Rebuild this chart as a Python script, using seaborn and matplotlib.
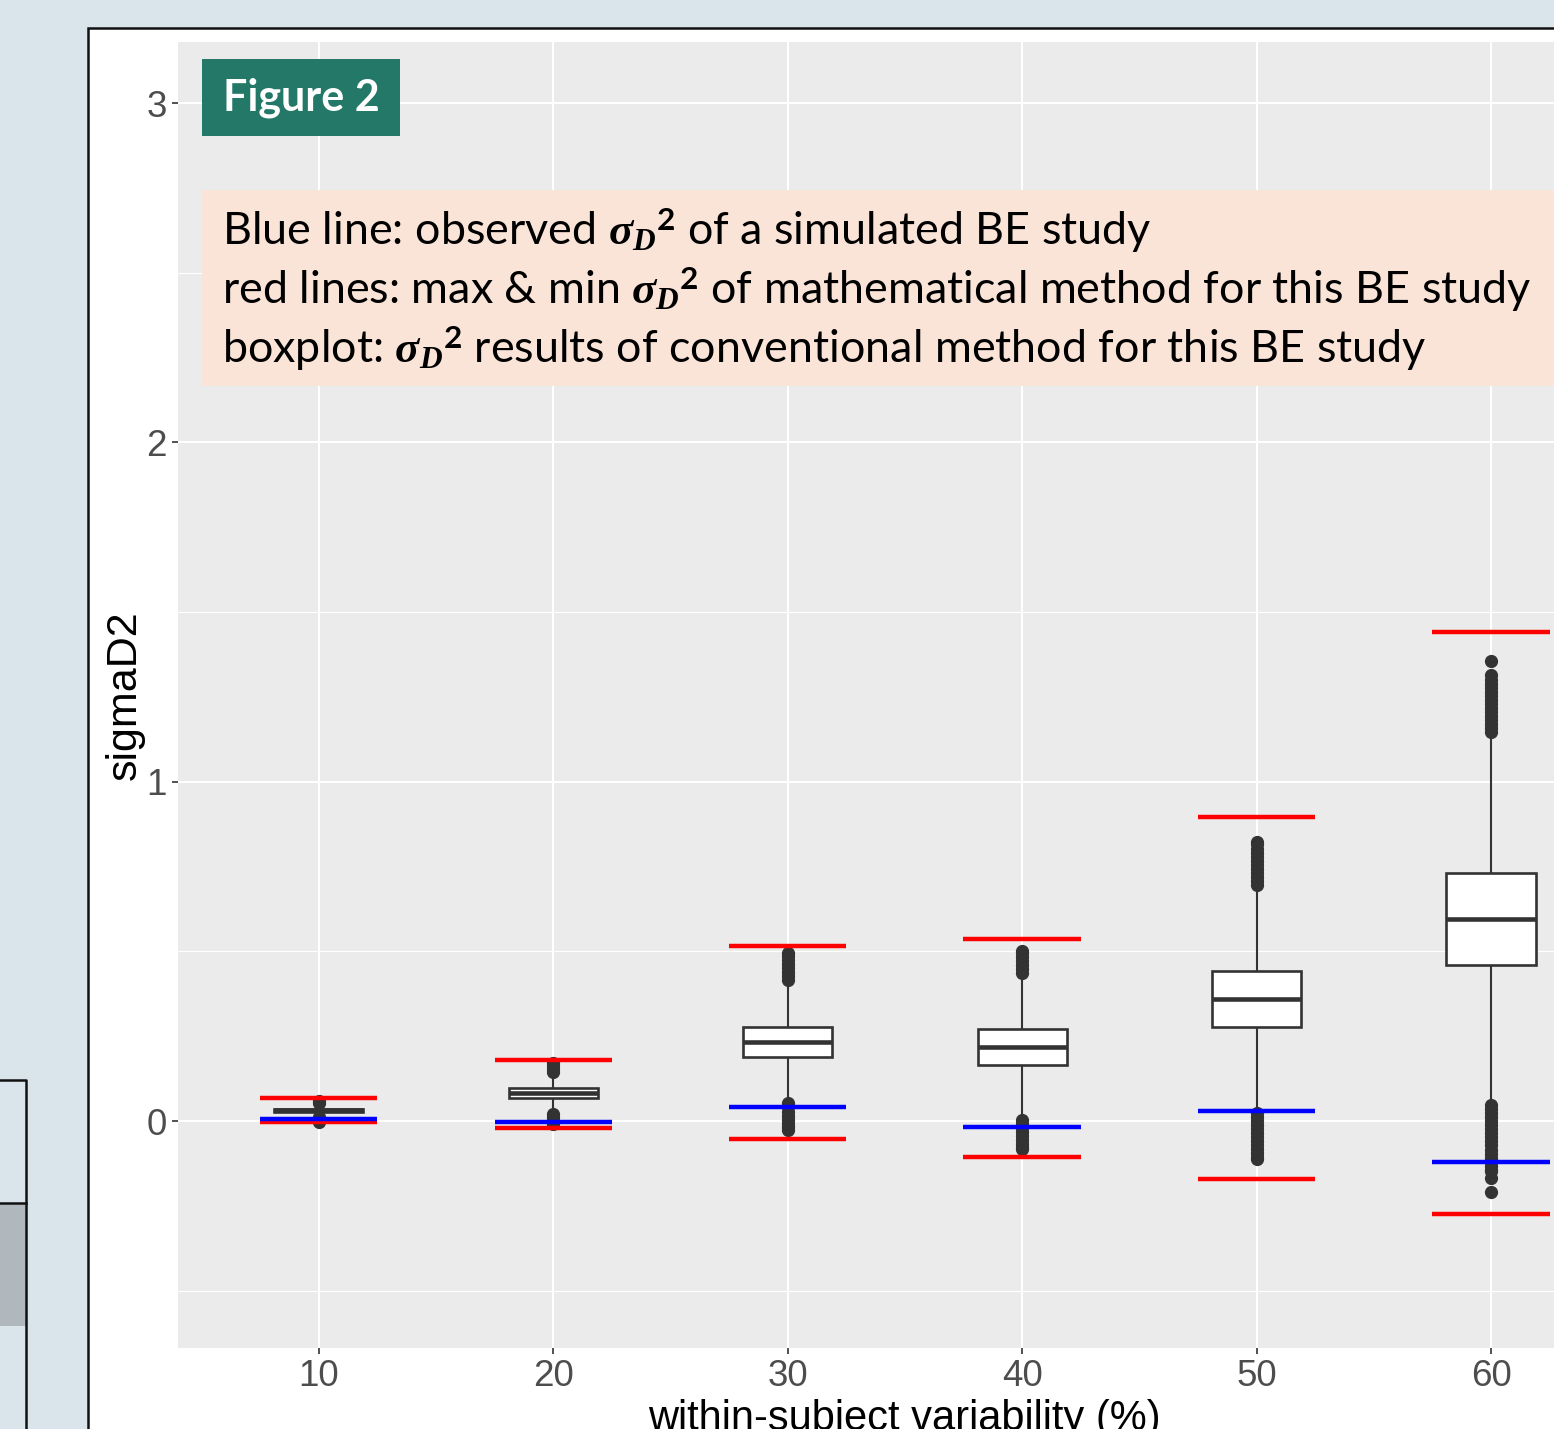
import numpy as np
import pandas as pd
import matplotlib
matplotlib.use("Agg")
import matplotlib.pyplot as plt
from matplotlib.patches import Rectangle
from matplotlib.lines import Line2D
import seaborn as sns

# ---------------- data ----------------
categories = ["10", "20", "30", "40", "50", "60"]

q1 = [0.027, 0.068, 0.189, 0.165, 0.277, 0.460]
median = [0.031, 0.083, 0.233, 0.218, 0.360, 0.595]
q3 = [0.036, 0.097, 0.277, 0.271, 0.442, 0.731]
whisker_lo = [0.016, 0.027, 0.060, 0.010, 0.033, 0.058]
whisker_hi = [0.047, 0.137, 0.405, 0.425, 0.685, 1.130]

outliers_hi = [
    [0.053, 0.060],
    [0.143, 0.152, 0.161, 0.170],
    [0.415, 0.427, 0.439, 0.451, 0.463, 0.475, 0.487, 0.495],
    [0.436, 0.448, 0.460, 0.472, 0.484, 0.496, 0.501],
    [0.695, 0.707, 0.719, 0.731, 0.743, 0.755, 0.767, 0.779, 0.791, 0.803, 0.815, 0.822],
    [1.145, 1.157, 1.169, 1.181, 1.193, 1.205, 1.217, 1.229, 1.241, 1.253, 1.265,
     1.277, 1.289, 1.301, 1.313, 1.356],
]
outliers_lo = [
    [0.011, 0.002, -0.004],
    [0.022, 0.012, 0.002, -0.008],
    [0.052, 0.040, 0.028, 0.016, 0.004, -0.008, -0.018, -0.027],
    [0.004, -0.008, -0.020, -0.032, -0.044, -0.056, -0.068, -0.078, -0.083],
    [0.025, 0.013, 0.001, -0.011, -0.023, -0.035, -0.047, -0.059, -0.071, -0.083,
     -0.095, -0.107, -0.112],
    [0.048, 0.036, 0.024, 0.012, 0.000, -0.012, -0.024, -0.036, -0.048, -0.060,
     -0.072, -0.084, -0.096, -0.108, -0.120, -0.132, -0.144, -0.147, -0.168, -0.209],
]

observed = [0.006, -0.003, 0.041, -0.018, 0.029, -0.121]      # blue lines
math_max = [0.068, 0.180, 0.516, 0.536, 0.896, 1.441]         # red lines (max)
math_min = [-0.003, -0.020, -0.053, -0.106, -0.171, -0.274]   # red lines (min)

y_ticks = [0, 1, 2, 3]
y_minor = [-0.5, 0.5, 1.5, 2.5]

# ------------- build sample that reproduces the box statistics -------------
W = 60
rows = []
for i, c in enumerate(categories):
    vals = (outliers_lo[i] + [whisker_lo[i]] + [q1[i]] * W + [median[i]] * W
            + [q3[i]] * W + [whisker_hi[i]] + outliers_hi[i])
    rows += [(c, v) for v in vals]
df = pd.DataFrame(rows, columns=["variability", "sigmaD2"])

# ---------------- figure ----------------
FW, FH = 1554, 1429
plt.rcParams["font.family"] = ["Liberation Sans", "DejaVu Sans"]
plt.rcParams["mathtext.fontset"] = "custom"
plt.rcParams["mathtext.it"] = "Liberation Serif:italic:bold"
plt.rcParams["mathtext.rm"] = "Lato:bold"
plt.rcParams["mathtext.bf"] = "Lato:bold"

fig = plt.figure(figsize=(FW / 100, FH / 100), dpi=100, facecolor="#d9e5eb")

def fx(px):
    return px / FW

def fy(py):
    return 1 - py / FH

# white panel with black border
fig.patches.append(Rectangle((fx(88), fy(FH + 20)), fx(FW + 40 - 88), (FH + 20 - 28) / FH,
                             transform=fig.transFigure, facecolor="white",
                             edgecolor="#111111", lw=1.8, zorder=-2))
# left neighbouring panel fragment
fig.patches.append(Rectangle((fx(-5), fy(1326)), fx(31), (1326 - 1204) / FH,
                             transform=fig.transFigure, facecolor="#b0b8bd",
                             edgecolor="none", zorder=-2))
fig.lines.append(Line2D([fx(-5), fx(26), fx(26)], [fy(1080), fy(1080), fy(FH + 10)],
                        transform=fig.transFigure, color="#111111", lw=1.8, zorder=-1))
fig.lines.append(Line2D([fx(-5), fx(26)], [fy(1203), fy(1203)],
                        transform=fig.transFigure, color="#111111", lw=1.8, zorder=-1))

ax = fig.add_axes([fx(178), fy(1348), fx(FW - 178), (1348 - 42) / FH])
ax.set_zorder(1)
ax.set_facecolor("#ebebeb")

sns.boxplot(data=df, x="variability", y="sigmaD2", order=categories, ax=ax,
            color="white", saturation=1, width=0.38, linecolor="#333333",
            linewidth=1.9, showcaps=False, whis=1.5,
            medianprops=dict(linewidth=3.3, color="#333333"),
            whiskerprops=dict(linewidth=1.5, color="#333333"),
            flierprops=dict(marker="o", markerfacecolor="#333333",
                            markeredgecolor="#333333", markersize=8.5))

pos = np.arange(len(categories))
ax.hlines(math_max, pos - 0.25, pos + 0.25, colors="#ff0000", lw=3.2, zorder=5)
ax.hlines(math_min, pos - 0.25, pos + 0.25, colors="#ff0000", lw=3.2, zorder=5)
ax.hlines(observed, pos - 0.25, pos + 0.25, colors="#0000ff", lw=3.2, zorder=5)

ax.set_xlim(-0.6, 5 + (FW - 1491) / 234.6)
ax.set_ylim(-0.669, 3.180)
ax.set_yticks(y_ticks)
ax.set_yticks(y_minor, minor=True)
ax.set_axisbelow(True)
ax.grid(which="major", color="white", lw=1.5)
ax.grid(which="minor", axis="y", color="white", lw=0.8)
for s in ax.spines.values():
    s.set_visible(False)
ax.tick_params(which="major", length=4, width=1.2, color="#333333",
               labelcolor="#4d4d4d", labelsize=26.5, pad=4)
ax.tick_params(which="minor", length=0)

ax.set_ylabel("sigmaD2", fontsize=31, color="black", va="center")
ax.yaxis.set_label_coords((125 - 178) / (FW - 178), 0.5)
ax.set_xlabel("within-subject variability (%)", fontsize=30, color="black", va="baseline")
ax.xaxis.set_label_coords((904 - 178) / (FW - 178), -(1430 - 1348) / (1348 - 42))

# "Figure 2" badge
fig.patches.append(Rectangle((fx(202), fy(136)), fx(400 - 202), (136 - 59) / FH,
                             transform=fig.transFigure, facecolor="#247868",
                             edgecolor="none", zorder=3))
fig.text(fx(301), fy(98), "Figure 2", color="white", fontsize=31, fontweight="bold",
         family=["Lato", "DejaVu Sans"], ha="center", va="center", zorder=4)

# explanation box
fig.patches.append(Rectangle((fx(202), fy(386)), fx(FW + 20 - 202), (386 - 190) / FH,
                             transform=fig.transFigure, facecolor="#fae4d8",
                             edgecolor="none", zorder=3))
lines = [
    r"Blue line: observed ${\sigma_D}^2$ of a simulated BE study",
    r"red lines: max & min ${\sigma_D}^2$ of mathematical method for this BE study",
    r"boxplot: ${\sigma_D}^2$ results of conventional method for this BE study",
]
for txt, base in zip(lines, [245, 304, 363]):
    fig.text(fx(222), fy(base), txt, fontsize=32.3, family=["Lato", "DejaVu Sans"],
             ha="left", va="baseline", color="black", zorder=4)

fig.savefig("out.png", dpi=100, facecolor=fig.get_facecolor())
